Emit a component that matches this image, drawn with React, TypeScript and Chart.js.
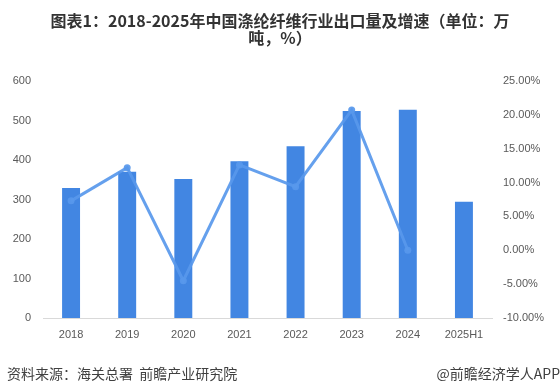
import React, { useEffect, useRef } from "react";
import { Chart, registerables } from "chart.js";

Chart.register(...registerables);

const categories = ["2018", "2019", "2020", "2021", "2022", "2023", "2024", "2025H1"];
const exportVolume = [329, 370, 352, 397, 435, 524, 527, 294];
const growthRate: (number | null)[] = [7.3, 12.2, -4.5, 12.6, 9.4, 20.7, 0.0, null];
const leftTicks = { min: 0, max: 600, step: 100 };
const rightTicks = { min: -10, max: 25, step: 5 };

const titleLines = ["图表1：2018-2025年中国涤纶纤维行业出口量及增速（单位：万", "吨，%）"];
const sourceText = "资料来源：海关总署  前瞻产业研究院";
const brandText = "@前瞻经济学人APP";

const BAR_COLOR = "#4286e2";
const LINE_COLOR = "rgba(88,152,236,0.92)";
const TICK_COLOR = "#595959";
const TICK_FONT = { family: "'Liberation Sans', Arial, sans-serif", size: 11 };

export default function App() {
  const canvasRef = useRef<HTMLCanvasElement | null>(null);

  useEffect(() => {
    document.body.style.margin = "0";
    const canvas = canvasRef.current;
    if (!canvas) return;
    const chart = new Chart(canvas, {
      type: "bar",
      data: {
        labels: categories,
        datasets: [
          {
            type: "line",
            label: "增速",
            data: growthRate,
            yAxisID: "y1",
            borderColor: LINE_COLOR,
            backgroundColor: LINE_COLOR,
            borderWidth: 3,
            pointRadius: 3.5,
            pointBorderWidth: 0,
            pointBackgroundColor: LINE_COLOR,
            tension: 0,
            spanGaps: false,
            order: 0,
          } as any,
          {
            type: "bar",
            label: "出口量",
            data: exportVolume,
            yAxisID: "y",
            backgroundColor: BAR_COLOR,
            barPercentage: 0.32,
            categoryPercentage: 1,
            order: 1,
          },
        ],
      },
      options: {
        responsive: false,
        animation: false,
        layout: { padding: { top: 81, left: 0, right: 0, bottom: 0 } },
        plugins: {
          legend: { display: false },
          tooltip: { enabled: false },
          title: { display: false },
        },
        scales: {
          x: {
            grid: { display: false, drawTicks: false },
            border: { display: true, color: "#d9d9d9", width: 1 },
            ticks: { color: TICK_COLOR, font: TICK_FONT, padding: 10, maxRotation: 0, autoSkip: false },
            afterFit: (s: any) => {
              s.height = 71;
            },
          },
          y: {
            position: "left",
            min: leftTicks.min,
            max: leftTicks.max,
            grid: { display: false, drawTicks: false },
            border: { display: false },
            ticks: { stepSize: leftTicks.step, color: TICK_COLOR, font: TICK_FONT, padding: 12 },
            afterFit: (s: any) => {
              s.width = 43;
            },
          },
          y1: {
            position: "right",
            min: rightTicks.min,
            max: rightTicks.max,
            grid: { display: false, drawTicks: false },
            border: { display: false },
            ticks: {
              stepSize: rightTicks.step,
              color: TICK_COLOR,
              font: TICK_FONT,
              padding: 11,
              callback: (v: any) => `${Number(v).toFixed(2)}%`,
            },
            afterFit: (s: any) => {
              s.width = 68;
            },
          },
        },
      },
    });
    return () => chart.destroy();
  }, []);

  return (
    <div style={{ position: "fixed", left: 0, top: 0, width: 560, height: 389, background: "#fff", overflow: "hidden" }}>
      <canvas ref={canvasRef} width={560} height={389} style={{ position: "absolute", left: 0, top: 0 }} />
      <div
        style={{
          position: "absolute",
          top: 12,
          left: 0,
          width: 560,
          textAlign: "center",
          fontFamily: "'Noto Sans CJK SC', sans-serif",
          fontWeight: 700,
          fontSize: 16,
          lineHeight: "17px",
          color: "#333",
        }}
      >
        {titleLines.map((l, i) => (
          <div key={i}>{l}</div>
        ))}
      </div>
      <div
        style={{
          position: "absolute",
          top: 364,
          left: 7,
          fontFamily: "'Noto Sans CJK SC', sans-serif",
          fontSize: 14,
          lineHeight: "18px",
          color: "#404040",
          whiteSpace: "pre",
        }}
      >
        {sourceText}
      </div>
      <div
        style={{
          position: "absolute",
          top: 364,
          right: 0,
          fontFamily: "'Noto Sans CJK SC', sans-serif",
          fontSize: 14,
          lineHeight: "18px",
          color: "#404040",
          whiteSpace: "pre",
        }}
      >
        {brandText}
      </div>
    </div>
  );
}
